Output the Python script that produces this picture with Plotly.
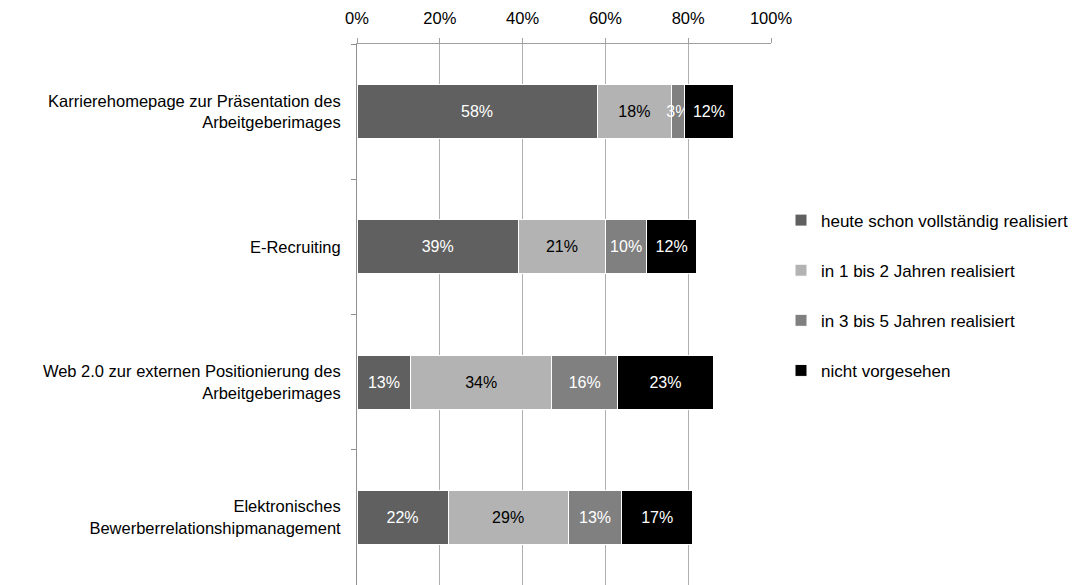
import plotly.graph_objects as go

categories = [
    "Karrierehomepage zur Präsentation des<br>Arbeitgeberimages",
    "E-Recruiting",
    "Web 2.0 zur externen Positionierung des<br>Arbeitgeberimages",
    "Elektronisches<br>Bewerberrelationshipmanagement",
]
series_names = [
    "heute schon vollständig realisiert",
    "in 1 bis 2 Jahren realisiert",
    "in 3 bis 5 Jahren realisiert",
    "nicht vorgesehen",
]
heute = [58, 39, 13, 22]
jahre_1_2 = [18, 21, 34, 29]
jahre_3_5 = [3, 10, 16, 13]
nicht = [12, 12, 23, 17]
tick_vals = [0, 20, 40, 60, 80, 100]
tick_text = ["0%", "20%", "40%", "60%", "80%", "100%"]

series_values = [heute, jahre_1_2, jahre_3_5, nicht]
colors = ["#606060", "#b3b3b3", "#808080", "#000000"]
text_colors = ["white", "black", "white", "white"]
FONT = "Liberation Sans, Arial"

fig = go.Figure()
for i, (name, vals) in enumerate(zip(series_names, series_values)):
    fig.add_trace(go.Bar(
        y=categories, x=vals, name=name, orientation="h",
        marker=dict(color=colors[i], line=dict(color="white", width=1)),
        text=[f"{v}%" for v in vals], textposition="inside",
        insidetextanchor="middle", constraintext="none", textangle=0,
        textfont=dict(color=text_colors[i], size=16, family=FONT),
        legendgroup=f"g{i}", hoverinfo="skip", cliponaxis=False,
    ))

fig.update_layout(
    width=1090, height=585,
    margin=dict(l=357, r=319, t=44, b=0),
    barmode="stack", bargap=0.6,
    plot_bgcolor="white", paper_bgcolor="white",
    font=dict(family=FONT, size=16, color="black"),
    legend=dict(
        x=(781 - 357) / 414, xanchor="left", y=0.535, yanchor="middle",
        traceorder="grouped", tracegroupgap=25, itemwidth=30,
        font=dict(size=17), bgcolor="rgba(0,0,0,0)",
    ),
    xaxis=dict(
        side="top", range=[0, 100], tickvals=tick_vals, ticktext=tick_text,
        showgrid=True, gridcolor="#b0b0b0", gridwidth=1,
        showline=True, linecolor="#a0a0a0", linewidth=1,
        ticks="outside", ticklen=5, tickcolor="#a0a0a0",
        zeroline=False, tickfont=dict(size=16.5), ticklabelstandoff=7,
        fixedrange=True,
    ),
    yaxis=dict(
        categoryorder="array", categoryarray=categories, autorange="reversed",
        showline=True, linecolor="#909090", linewidth=1,
        ticks="outside", ticklen=5, tickcolor="#909090", tickson="boundaries",
        showgrid=False, tickfont=dict(size=16.5), ticklabelstandoff=12,
    ),
)
fig.write_html("out.html")
